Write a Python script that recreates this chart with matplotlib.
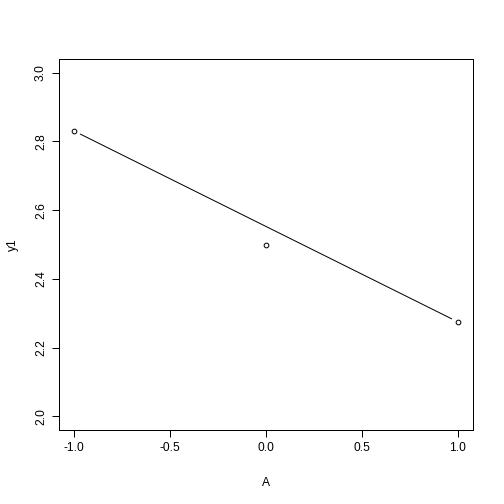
import matplotlib
matplotlib.use("Agg")
import matplotlib.pyplot as plt
import numpy as np

# точки и линия тренда по фактору A
A = [-1.0, 0.0, 1.0]
y1 = [2.83, 2.50, 2.275]
line_x = [-1.0, 1.0]
line_y = [2.83, 2.275]

xticks = [-1.0, -0.5, 0.0, 0.5, 1.0]
yticks = [2.0, 2.2, 2.4, 2.6, 2.8, 3.0]

plt.rcParams['font.family'] = ['Liberation Sans', 'DejaVu Sans']

fig = plt.figure(figsize=(7, 7), dpi=72)
ax = fig.add_axes([59/504, 74/504, 414/504, 371/504])

# линия с зазорами у точек, как type="b" в R
gap = 0.016
lx = np.array(line_x)
ly = np.array(line_y)
dx, dy = lx[1] - lx[0], ly[1] - ly[0]
ax.plot([lx[0] + gap*dx, lx[1] - gap*dx], [ly[0] + gap*dy, ly[1] - gap*dy],
        color='black', lw=1)
ax.scatter(A, y1, s=22, facecolors='white', edgecolors='black', linewidths=1, zorder=3)

ax.set_xlim(-1.08, 1.08)
ax.set_ylim(1.96, 3.04)
ax.set_xticks(xticks)
ax.set_xticklabels([f"{t:.1f}" for t in xticks])
ax.set_yticks(yticks)
ax.set_yticklabels([f"{t:.1f}" for t in yticks], rotation=90, va='center')
ax.tick_params(length=7, width=1, labelsize=12, pad=5)
for s in ax.spines.values():
    s.set_linewidth(1)
ax.set_xlabel("A", fontsize=12, labelpad=23)
ax.set_ylabel("y1", fontsize=12, labelpad=16)

fig.savefig("out.png", dpi=72)
